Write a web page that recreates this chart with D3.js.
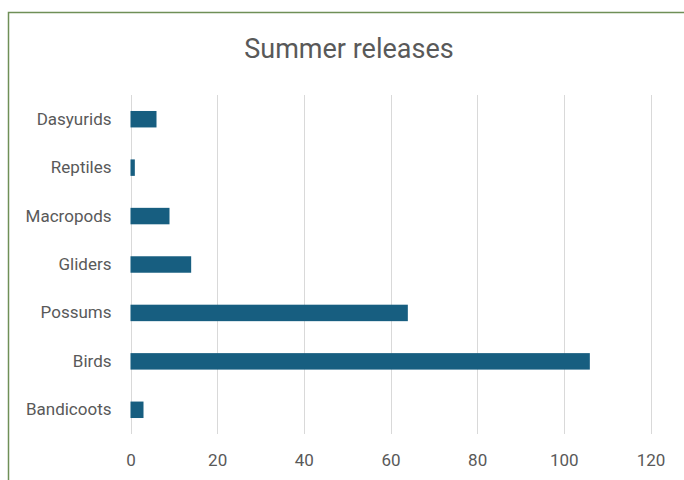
<!DOCTYPE html>
<html>
<head>
<meta charset="utf-8">
<script src="https://cdn.jsdelivr.net/npm/d3@7"></script>
<style>
  html, body { margin: 0; padding: 0; background: #ffffff; }
  svg { display: block; }
</style>
</head>
<body>
<script>
// Animals released over summer, by group
const categories = ["Dasyurids", "Reptiles", "Macropods", "Gliders", "Possums", "Birds", "Bandicoots"];
const releases = [6, 1, 9, 14, 64, 106, 3];
const tickValues = [0, 20, 40, 60, 80, 100, 120];
const chartTitle = "Summer releases";

const width = 684, height = 480;
const font = "Roboto, 'Open Sans', sans-serif";
const textColor = "#595959";

const svg = d3.select("body").append("svg")
  .attr("width", width)
  .attr("height", height);

// chart area frame (runs past the right and bottom edges)
svg.append("rect")
  .attr("x", 8.5).attr("y", 12.5)
  .attr("width", 700).attr("height", 500)
  .attr("fill", "#ffffff")
  .attr("stroke", "#6f8f57")
  .attr("stroke-width", 1.5);

const x = d3.scaleLinear().domain([0, 120]).range([130.5, 650.5]);
const y = d3.scaleBand().domain(categories).range([95, 434]).paddingInner(0.66).paddingOuter(0.33);

// vertical gridlines
svg.append("g")
  .selectAll("line")
  .data(tickValues)
  .join("line")
  .attr("x1", d => Math.round(x(d)) + 0.5)
  .attr("x2", d => Math.round(x(d)) + 0.5)
  .attr("y1", 95).attr("y2", 434)
  .attr("stroke", "#d9d9d9")
  .attr("stroke-width", 1);

// bars
svg.append("g")
  .selectAll("rect")
  .data(categories)
  .join("rect")
  .attr("x", x(0))
  .attr("y", d => y(d))
  .attr("width", (d, i) => x(releases[i]) - x(0))
  .attr("height", y.bandwidth())
  .attr("fill", "#175e80");

// category labels
const yAxis = svg.append("g")
  .attr("transform", `translate(${x(0) - 19},0)`)
  .call(d3.axisLeft(y).tickSize(0).tickPadding(0));
yAxis.select(".domain").remove();
yAxis.selectAll("text")
  .attr("fill", textColor)
  .style("font-family", font)
  .style("font-size", "17px");

// value labels
const xAxis = svg.append("g")
  .attr("transform", "translate(0,454)")
  .call(d3.axisBottom(x).tickValues(tickValues).tickSize(0).tickPadding(0));
xAxis.select(".domain").remove();
xAxis.selectAll("text")
  .attr("fill", textColor)
  .style("font-family", font)
  .style("font-size", "17px");

// title
svg.append("text")
  .attr("x", 349)
  .attr("y", 58)
  .attr("text-anchor", "middle")
  .attr("fill", textColor)
  .style("font-family", font)
  .style("font-size", "27px")
  .text(chartTitle);
</script>
</body>
</html>
